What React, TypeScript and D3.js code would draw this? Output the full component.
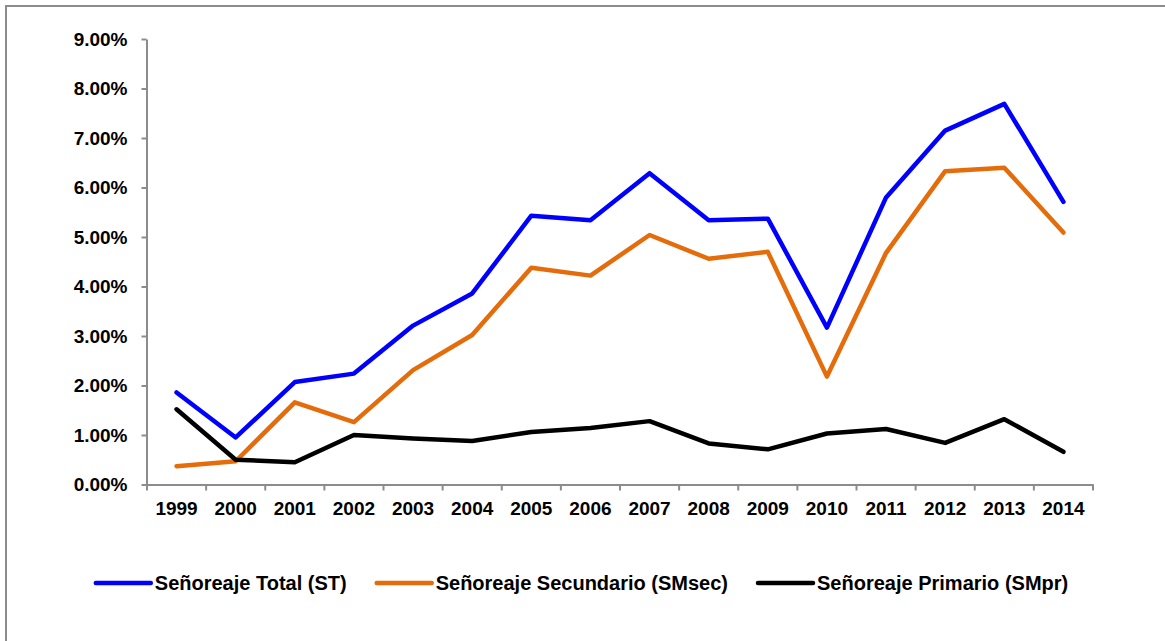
import * as d3 from "d3";
import { useEffect, useRef } from "react";

const years = ["1999", "2000", "2001", "2002", "2003", "2004", "2005", "2006", "2007", "2008", "2009", "2010", "2011", "2012", "2013", "2014"];
const total = [1.86, 0.95, 2.07, 2.24, 3.21, 3.86, 5.43, 5.34, 6.29, 5.34, 5.37, 3.17, 5.8, 7.15, 7.69, 5.71];
const secundario = [0.37, 0.47, 1.66, 1.26, 2.31, 3.02, 4.38, 4.22, 5.04, 4.56, 4.7, 2.18, 4.68, 6.33, 6.4, 5.09];
const primario = [1.52, 0.5, 0.45, 1.0, 0.93, 0.88, 1.06, 1.14, 1.28, 0.83, 0.71, 1.03, 1.12, 0.84, 1.32, 0.66];
const yTicks = [0, 1, 2, 3, 4, 5, 6, 7, 8, 9];

const series = [
  { name: "Señoreaje Total (ST)", values: total, color: "#0000ff" },
  { name: "Señoreaje Secundario (SMsec)", values: secundario, color: "#e46c0a" },
  { name: "Señoreaje Primario (SMpr)", values: primario, color: "#000000" },
];

const W = 1165;
const H = 641;
const FONT = "'Liberation Sans', Arial, sans-serif";

export default function App() {
  const ref = useRef<SVGSVGElement>(null);

  useEffect(() => {
    const svg = d3.select(ref.current);
    svg.selectAll("*").remove();

    svg.append("rect").attr("width", W).attr("height", H).attr("fill", "#fff");
    // outer frame (only left/top visible in the crop)
    svg.append("path").attr("d", `M6,${H} V6 H${W}`).attr("fill", "none").attr("stroke", "#8c8c8c").attr("stroke-width", 2);

    const x = d3.scaleBand().domain(years).range([147, 1093]);
    const y = d3.scaleLinear().domain([0, 9]).range([484.5, 39]);

    // y axis
    const ya = svg.append("g").attr("transform", "translate(146.5,0)");
    ya.call(d3.axisLeft(y).tickValues(yTicks).tickSize(5).tickSizeOuter(0).tickFormat((d) => (d as number).toFixed(2) + "%"));
    ya.select(".domain").attr("stroke", "#8c8c8c").attr("stroke-width", 2);
    ya.selectAll(".tick line").attr("stroke", "#8c8c8c").attr("stroke-width", 2);
    ya.selectAll(".tick text")
      .attr("x", -19)
      .attr("fill", "#000")
      .style("font-family", FONT)
      .style("font-weight", "bold")
      .style("font-size", "19px");

    // x axis
    const xa = svg.append("g").attr("transform", `translate(0,${y(0)})`);
    xa.call(d3.axisBottom(x).tickSize(0).tickSizeOuter(0).tickPadding(17));
    xa.select(".domain").attr("stroke", "#8c8c8c").attr("stroke-width", 2);
    xa.selectAll(".tick text")
      .attr("fill", "#000")
      .style("font-family", FONT)
      .style("font-weight", "bold")
      .style("font-size", "19px");
    const edges = years.map((d) => x(d) as number).concat([x.range()[1]]);
    xa.selectAll(".edge")
      .data(edges)
      .join("line")
      .attr("x1", (d) => d)
      .attr("x2", (d) => d)
      .attr("y1", 0)
      .attr("y2", 6)
      .attr("stroke", "#8c8c8c")
      .attr("stroke-width", 2);

    const line = d3
      .line<number>()
      .x((_, i) => (x(years[i]) as number) + x.bandwidth() / 2)
      .y((d) => y(d));

    svg
      .selectAll(".series")
      .data(series)
      .join("path")
      .attr("d", (s) => line(s.values))
      .attr("fill", "none")
      .attr("stroke", (s) => s.color)
      .attr("stroke-width", 4.5)
      .attr("stroke-linejoin", "round")
      .attr("stroke-linecap", "round");

    // legend: laid out from measured text widths, centred like the original
    const lg = svg
      .selectAll(".leg")
      .data(series)
      .join("g");
    lg.append("line")
      .attr("x1", 0)
      .attr("x2", 55)
      .attr("stroke", (s) => s.color)
      .attr("stroke-width", 4.5)
      .attr("stroke-linecap", "round");
    const texts = lg
      .append("text")
      .attr("x", 59)
      .attr("dy", "0.35em")
      .text((s) => s.name)
      .style("font-family", FONT)
      .style("font-weight", "bold")
      .style("font-size", "20px");
    const widths: number[] = [];
    texts.each(function () {
      widths.push((this as SVGTextElement).getComputedTextLength());
    });
    const gap = 30;
    const totalW = d3.sum(widths) + 59 * widths.length + gap * (widths.length - 1);
    let cx = 582 - totalW / 2;
    const offs = widths.map((w) => {
      const o = cx;
      cx += 59 + w + gap;
      return o;
    });
    lg.attr("transform", (_, i) => `translate(${offs[i]},583)`);
  }, []);

  return <svg ref={ref} width={W} height={H} style={{ position: "absolute", left: 0, top: 0 }} />;
}
